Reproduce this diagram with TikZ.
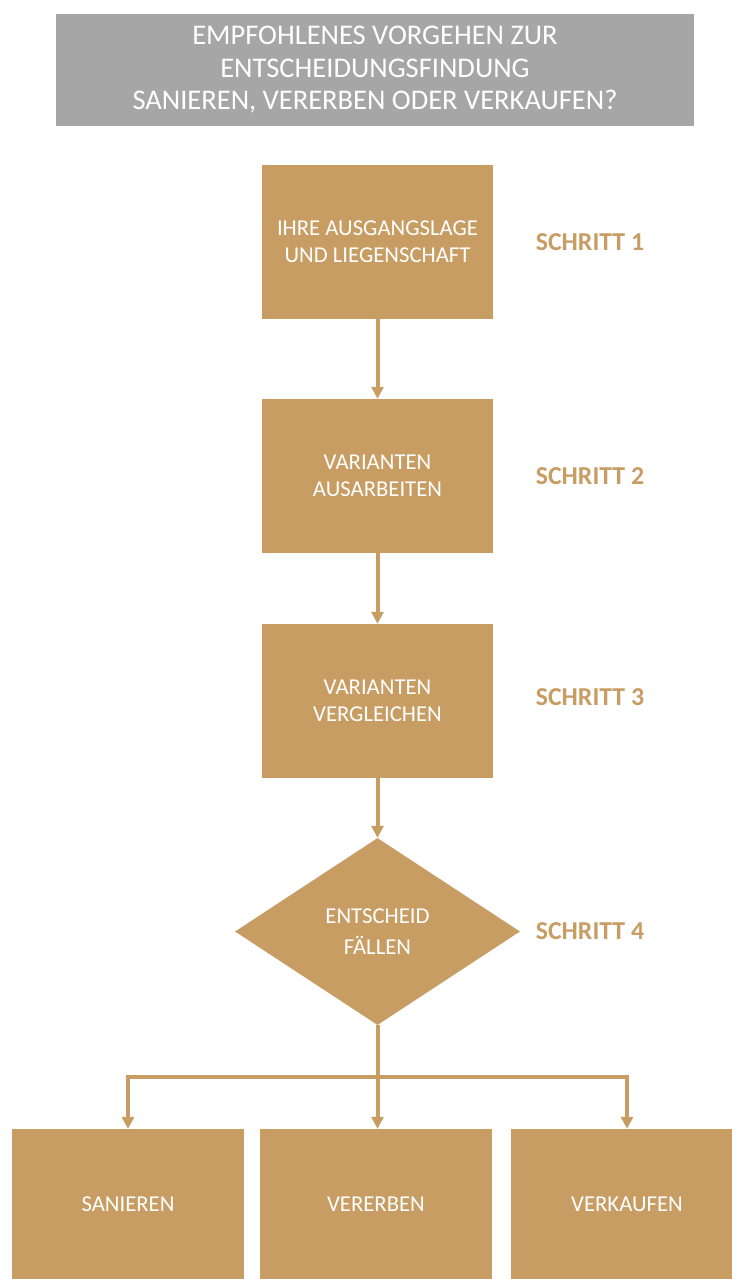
\documentclass[tikz,border=0pt]{standalone}
\usepackage{fontspec}
\setmainfont{Carlito}
\usetikzlibrary{arrows.meta,positioning,shapes.geometric}
\definecolor{gold}{RGB}{200,157,99}
\definecolor{titlegray}{RGB}{166,166,166}
\begin{document}
\begin{tikzpicture}[x=1pt,y=-1pt,
 t/.style={fill=titlegray,text=white,align=center,minimum width=638pt,minimum height=112pt,inner sep=0pt,font=\fontsize{28.5}{32.5}\selectfont},
 b/.style={fill=gold,text=white,align=center,minimum width=231pt,minimum height=154pt,inner sep=0pt,font=\fontsize{22.7}{27}\selectfont},
 d/.style={diamond,fill=gold,text=white,align=center,aspect=1.524,minimum width=285pt,minimum height=187pt,inner sep=0pt,font=\fontsize{22.7}{31}\selectfont},
 s/.style={text=gold,font=\fontsize{25.8}{30}\selectfont\bfseries},
 a/.style={-{Triangle[width=12pt,length=12pt]},draw=gold,line width=4pt},
 l/.style={draw=gold,line width=4pt}]
\useasboundingbox (0,0) rectangle (731,1279);
\node[t] (title) at (375,70) {EMPFOHLENES VORGEHEN ZUR\\ENTSCHEIDUNGSFINDUNG\\SANIEREN, VERERBEN ODER VERKAUFEN?};
\node[b] (lage) at (377.5,242) {IHRE AUSGANGSLAGE\\UND LIEGENSCHAFT};
\node[b] (ausarb) at (377.5,476) {VARIANTEN\\AUSARBEITEN};
\node[b] (vergl) at (377.5,701) {VARIANTEN\\VERGLEICHEN};
\node[d] (entsch) at (377.5,931.5) {ENTSCHEID\\FÄLLEN};
\node[s] (s1) at (590,242) {SCHRITT 1};
\node[s] (s2) at (590,476) {SCHRITT 2};
\node[s] (s3) at (590,697) {SCHRITT 3};
\node[s] (s4) at (590,931) {SCHRITT 4};
\node[b,minimum width=232pt,minimum height=150pt] (san) at (128,1204) {SANIEREN};
\node[b,minimum width=232pt,minimum height=150pt] (verer) at (376,1204) {VERERBEN};
\node[b,minimum width=232pt,minimum height=150pt] (verk) at (627,1204) {VERKAUFEN};
\coordinate (split) at (377.5,1077);
\draw[a] (lage) -- (ausarb);
\draw[a] (ausarb) -- (vergl);
\draw[a] (vergl) -- (entsch);
\draw[l] (entsch.south) -- (split);
\draw[a] (split) -- (split |- verer.north);
\draw[a] (split) -| (san.north);
\draw[a] (split) -| (verk.north);
\end{tikzpicture}
\end{document}
